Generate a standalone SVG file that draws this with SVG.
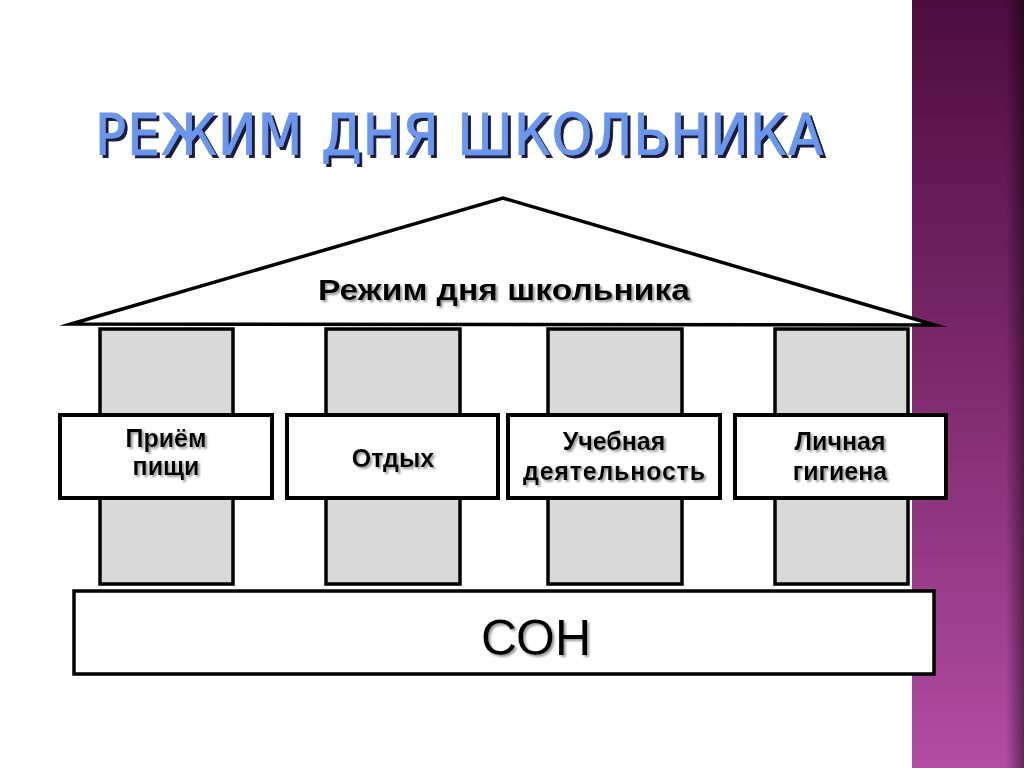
<svg xmlns="http://www.w3.org/2000/svg" width="1024" height="768" viewBox="0 0 1024 768">
<defs>
<linearGradient id="strip" x1="0" y1="0" x2="0" y2="1">
<stop offset="0" stop-color="#4c0c3e"/>
<stop offset="0.5" stop-color="#7e2a6e"/>
<stop offset="1" stop-color="#b24ca4"/>
</linearGradient>
<linearGradient id="edge" x1="0" y1="0" x2="1" y2="0">
<stop offset="0" stop-color="#000" stop-opacity="0"/>
<stop offset="1" stop-color="#000" stop-opacity="0.45"/>
</linearGradient>
<filter id="sh" x="-10%" y="-30%" width="120%" height="160%">
<feDropShadow dx="2" dy="2" stdDeviation="1.2" flood-color="#808080" flood-opacity="0.8"/>
</filter>
<filter id="tsh" x="-5%" y="-30%" width="110%" height="160%">
<feDropShadow dx="3" dy="3" stdDeviation="0.6" flood-color="#0a0a30" flood-opacity="0.95"/>
</filter>
</defs>
<style>
.pillar{fill:#d9d9d9;stroke:#000;stroke-width:3.5}
.box{fill:#fff;stroke:#000;stroke-width:4}
.lbl{font-family:"Liberation Sans",Arial,sans-serif;font-weight:bold;font-size:25px;fill:#000;text-anchor:middle}
</style>
<rect width="1024" height="768" fill="#fff"/>
<g id="side-strip">
<rect x="912" y="0" width="112" height="768" fill="url(#strip)"/>
<rect x="1006" y="0" width="18" height="768" fill="url(#edge)"/>
</g>
<text id="title" x="95" y="155" font-family="'DejaVu Sans Condensed','DejaVu Sans',sans-serif" font-size="57" fill="#6b96ee" stroke="#6b96ee" stroke-width="0.8" textLength="728" lengthAdjust="spacing" filter="url(#tsh)">РЕЖИМ ДНЯ ШКОЛЬНИКА</text>
<g id="roof">
<polygon points="71,324 503,198 935,325" fill="#fff" stroke="#000" stroke-width="3.5" stroke-linejoin="miter" stroke-miterlimit="40"/>
<text x="504" y="300" font-family="'Liberation Sans',Arial,sans-serif" font-weight="bold" font-size="29" text-anchor="middle" textLength="372" lengthAdjust="spacingAndGlyphs" filter="url(#sh)">Режим дня школьника</text>
</g>
<g id="pillars">
<rect class="pillar" x="100" y="329" width="133" height="255"/>
<rect class="pillar" x="326" y="329" width="134" height="255"/>
<rect class="pillar" x="548" y="329" width="134" height="255"/>
<rect class="pillar" x="775" y="329" width="133" height="255"/>
</g>
<g id="node-priem">
<rect class="box" x="60" y="415" width="212" height="83"/>
<text class="lbl" x="166" y="447" filter="url(#sh)">Приём</text>
<text class="lbl" x="166" y="475" filter="url(#sh)">пищи</text>
</g>
<g id="node-otdyh">
<rect class="box" x="287" y="415" width="211" height="83"/>
<text class="lbl" x="393" y="467" filter="url(#sh)">Отдых</text>
</g>
<g id="node-ucheba">
<rect class="box" x="508" y="415" width="212" height="83"/>
<text class="lbl" x="614" y="450" filter="url(#sh)">Учебная</text>
<text class="lbl" x="614" y="480" textLength="182" lengthAdjust="spacing" filter="url(#sh)">деятельность</text>
</g>
<g id="node-gigiena">
<rect class="box" x="735" y="415" width="211" height="83"/>
<text class="lbl" x="840" y="450" filter="url(#sh)">Личная</text>
<text class="lbl" x="840" y="480" filter="url(#sh)">гигиена</text>
</g>
<g id="node-son">
<rect x="74" y="591" width="860" height="83" fill="#fff" stroke="#000" stroke-width="3.5"/>
<text x="536" y="655" font-family="'Liberation Sans',Arial,sans-serif" font-size="50" text-anchor="middle" filter="url(#sh)">СОН</text>
</g>
</svg>
